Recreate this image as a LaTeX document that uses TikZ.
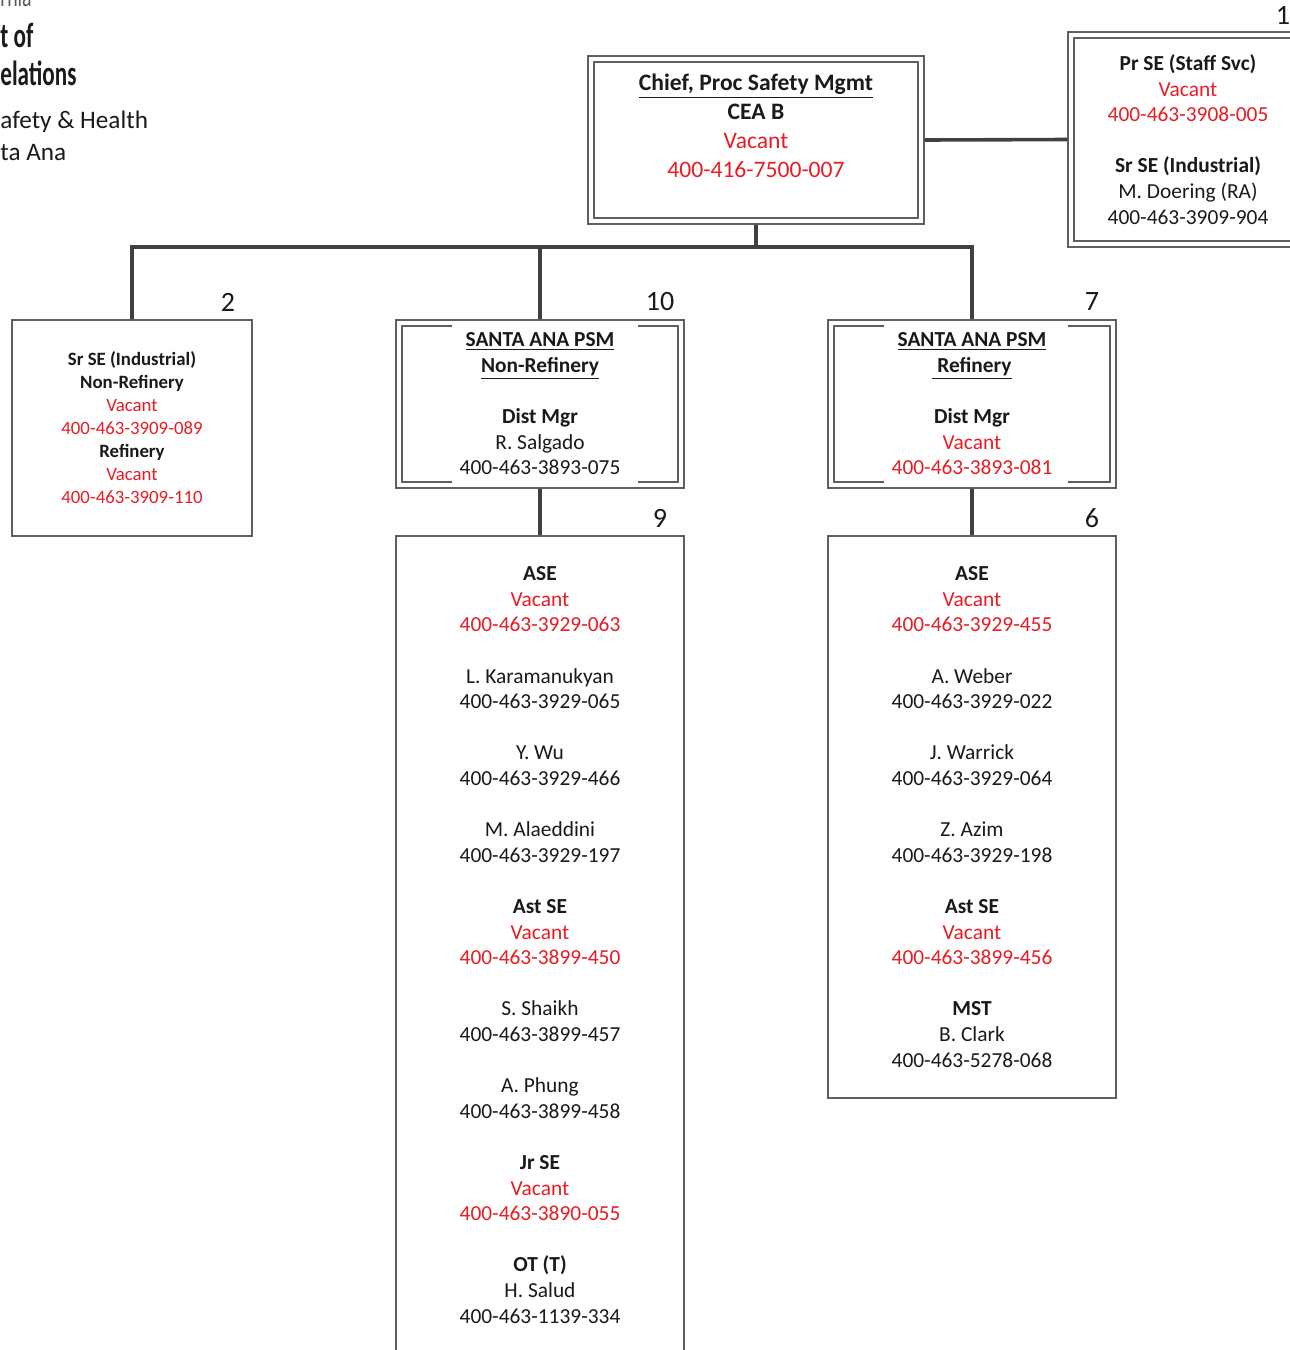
\documentclass[tikz,border=0pt]{standalone}
\usepackage{fontspec}
\setmainfont{Carlito}
\newfontfamily\narrowfont[FakeStretch=0.66]{Carlito}
\definecolor{vacred}{RGB}{232,28,36}
\definecolor{boxgray}{RGB}{95,95,95}
\definecolor{linegray}{RGB}{64,64,64}
\definecolor{inkblack}{RGB}{25,25,30}
\newcommand{\vac}[1]{\textcolor{vacred}{#1}}

\begin{document}
\begin{tikzpicture}[x=0.5pt,y=-0.5pt,
        conn/.style={draw=linegray,line width=1.8pt},
        onebox/.style={draw=boxgray,line width=0.6pt,fill=white},
        twobox/.style={draw=boxgray,line width=0.6pt,double,double distance=2.4pt,outer sep=1.8pt},
        cnt/.style={font=\fontsize{14}{14}\selectfont,text=inkblack},
        entry/.style={align=center,text=inkblack,font=\fontsize{10.7}{12.8}\selectfont},
        head/.style={anchor=base west,inner sep=0pt,text=inkblack}]
            \useasboundingbox (0,0) rectangle (1290,1350);
            \node[head,font=\narrowfont\fontsize{15}{15}\selectfont,text=black!65] (hd0) at (0,6) {rnia};
            \node[head,font=\narrowfont\bfseries\fontsize{17.5}{17.5}\selectfont] (hd1) at (0,47) {t of};
            \node[head,font=\narrowfont\bfseries\fontsize{17.5}{17.5}\selectfont] (hd2) at (0,85) {elations};
            \node[head,font=\fontsize{12.6}{12.6}\selectfont] (hd3) at (0,128) {afety \& Health};
            \node[head,font=\fontsize{12.6}{12.6}\selectfont] (hd4) at (0,160) {ta Ana};
            \node[twobox,minimum width=165pt,minimum height=81pt] (chief) at (756,140) {};
            \node[entry,font=\fontsize{11.8}{14.5}\selectfont] (chieftxt) at (756,126) {\textbf{\underline{Chief, Proc Safety Mgmt}}\\ \textbf{CEA B}\\ \vac{Vacant}\\ \vac{400-416-7500-007}};
            \node[twobox,entry,minimum width=117pt,minimum height=104.5pt] (staffsvc) at (1188,139.5) {\textbf{Pr SE (Staff Svc)}\\ \vac{Vacant}\\ \vac{400-463-3908-005}\\[12.8pt] \textbf{Sr SE (Industrial)}\\ M. Doering (RA)\\ 400-463-3909-904};
            \node[onebox,entry,font=\fontsize{9.4}{11.5}\selectfont,minimum width=120pt,minimum height=108pt] (srse) at (132,428) {\textbf{Sr SE (Industrial)}\\ \textbf{Non-Refinery}\\ \vac{Vacant}\\ \vac{400-463-3909-089}\\ \textbf{Refinery}\\ \vac{Vacant}\\ \vac{400-463-3909-110}};
            \node[twobox,entry,minimum width=141pt,minimum height=81pt] (nonref) at (540,404) {\textbf{\underline{SANTA ANA PSM}}\\ \textbf{\underline{Non-Refinery}}\\[12.8pt] \textbf{Dist Mgr}\\ R. Salgado\\ 400-463-3893-075};
            \node[twobox,entry,minimum width=141pt,minimum height=81pt] (ref) at (972,404) {\textbf{\underline{SANTA ANA PSM}}\\ \textbf{\underline{\ Refinery}}\\[12.8pt] \textbf{Dist Mgr}\\ \vac{Vacant}\\ \vac{400-463-3893-081}};
            \fill[white] (452,325) rectangle (638,328.5);
            \fill[white] (452,480) rectangle (638,483.5);
            \fill[white] (884,325) rectangle (1068,328.5);
            \fill[white] (884,480) rectangle (1068,483.5);
            \node[onebox,entry,minimum width=144pt,minimum height=409pt] (nonrefstaff) at (540,945) {\textbf{ASE}\\ \vac{Vacant}\\ \vac{400-463-3929-063}\\[12.8pt] L. Karamanukyan\\ 400-463-3929-065\\[12.8pt] Y. Wu\\ 400-463-3929-466\\[12.8pt] M. Alaeddini\\ 400-463-3929-197\\[12.8pt] \textbf{Ast SE}\\ \vac{Vacant}\\ \vac{400-463-3899-450}\\[12.8pt] S. Shaikh\\ 400-463-3899-457\\[12.8pt] A. Phung\\ 400-463-3899-458\\[12.8pt] \textbf{Jr SE}\\ \vac{Vacant}\\ \vac{400-463-3890-055}\\[12.8pt] \textbf{OT (T)}\\ H. Salud\\ 400-463-1139-334};
            \node[onebox,entry,minimum width=144pt,minimum height=281pt] (refstaff) at (972,817) {\textbf{ASE}\\ \vac{Vacant}\\ \vac{400-463-3929-455}\\[12.8pt] A. Weber\\ 400-463-3929-022\\[12.8pt] J. Warrick\\ 400-463-3929-064\\[12.8pt] Z. Azim\\ 400-463-3929-198\\[12.8pt] \textbf{Ast SE}\\ \vac{Vacant}\\ \vac{400-463-3899-456}\\[12.8pt] \textbf{MST}\\ B. Clark\\ 400-463-5278-068};
            \node[cnt] (c1) at (1283,15) {1};
            \node[cnt] (c2) at (228,302) {2};
            \node[cnt] (c10) at (660,302) {10};
            \node[cnt] (c7) at (1092,302) {7};
            \node[cnt] (c9) at (660,518) {9};
            \node[cnt] (c6) at (1092,518) {6};
            \coordinate (bus) at (756,247);
            \draw[conn] (chief.south) -- (bus);
            \draw[conn] (srse.north) |- (bus) -| (ref.north);
            \draw[conn] (nonref.north) -- (nonref.north |- bus);
            \draw[conn] (chief.east) -- (staffsvc.west);
            \draw[conn] (nonref.south) -- (nonrefstaff.north);
            \draw[conn] (ref.south) -- (refstaff.north);
        \end{tikzpicture}
\end{document}
